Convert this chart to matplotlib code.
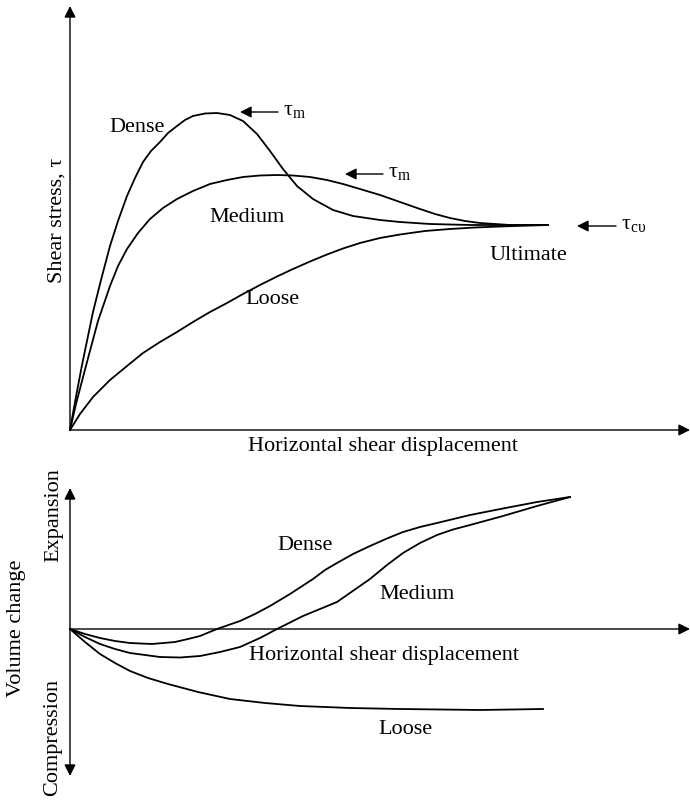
import matplotlib
matplotlib.use("Agg")
import matplotlib.pyplot as plt

plt.rcParams['font.family'] = ['Liberation Serif', 'DejaVu Serif']
plt.rcParams['mathtext.fontset'] = 'custom'
plt.rcParams['mathtext.rm'] = 'Liberation Serif'
plt.rcParams['mathtext.it'] = 'Liberation Serif:italic'

# shear stress vs horizontal displacement (arbitrary units)
dense_x = [0, 5, 12, 23, 31, 40, 48, 57, 65, 73, 81, 90, 98, 107, 115, 123, 135, 147,
           160, 173, 187, 200, 213, 227, 243, 263, 283, 310, 330, 360, 400, 440, 478]
dense_y = [0, 28, 65, 118, 150, 184, 209, 234, 252, 268, 279, 288, 297, 304, 310, 314, 316.5, 317,
           315, 309, 296, 279, 261, 244, 231, 220, 214, 210, 208, 206, 205, 205, 205]
medium_x = [0, 6, 17, 28, 40, 48, 57, 68, 80, 93, 107, 123, 140, 157, 173, 190, 207, 223,
            240, 257, 273, 290, 310, 330, 350, 365, 380, 395, 410, 425, 440, 478]
medium_y = [0, 26, 68, 109, 144, 164, 181, 197, 211, 222, 231, 239, 246, 250, 253, 254.5, 255, 254.5,
            253, 250, 246, 241, 235, 228, 221, 216, 212, 209, 207, 206, 205, 205]
loose_x = [0, 10, 23, 40, 57, 73, 90, 107, 123, 140, 157, 173, 190, 207, 223, 240, 257,
           273, 290, 310, 330, 355, 380, 405, 430, 455, 478]
loose_y = [0, 16, 33, 50, 64, 77, 88, 98, 108, 118, 127, 136, 145, 153.5, 161, 168.5, 175.5,
           181.5, 187, 192, 195.5, 199, 201, 202.5, 203.5, 204.3, 205]

# volume change vs horizontal displacement
vd_x = [0, 15, 30, 45, 60, 82, 105, 118, 130, 147, 170, 185, 200, 220, 243, 255, 267, 283,
        300, 317, 333, 350, 367, 400, 433, 467, 500]
vd_y = [0, -5, -9, -12, -14, -15, -13, -10, -7, 0, 8, 15, 23, 35, 50, 59, 66, 75,
        83, 90.5, 97, 102, 106, 114, 120.5, 127, 132]
vm_x = [0, 15, 30, 45, 60, 90, 110, 130, 150, 170, 190, 207, 233, 267, 300, 317, 333, 350,
        367, 383, 400, 433, 467, 500]
vm_y = [0, -8, -15, -20, -24, -28, -28.5, -27, -23, -18, -9, 0, 13, 27, 50, 64, 76, 86,
        94, 99.5, 104, 113, 123, 132]
vl_x = [0, 15, 30, 45, 60, 78, 98, 128, 160, 195, 230, 280, 330, 410, 473]
vl_y = [0, -13, -25, -34, -42, -49, -55, -63, -70, -74, -77, -79, -80, -81, -80]

W, H = 690, 803
fig = plt.figure(figsize=(W / 100, H / 100), dpi=100)

def px_axes(x0, x1, y0, y1):
    # axes placed by pixel box (top-left origin)
    return fig.add_axes([x0 / W, (H - y1) / H, (x1 - x0) / W, (y1 - y0) / H])

FS = 16
LW = 1.3
arrow = dict(arrowstyle='-|>', color='black', lw=1.0, mutation_scale=17, shrinkA=0, shrinkB=0)

# ---- top panel ----
ax1 = px_axes(70, 690, 7, 431)
ax1.set_xlim(0, 620)
ax1.set_ylim(0, 424)
ax1.axis('off')
for xs, ys in [(dense_x, dense_y), (medium_x, medium_y), (loose_x, loose_y)]:
    ax1.plot(xs, ys, color='black', lw=LW, clip_on=False, solid_joinstyle='round')
ax1.annotate('', xy=(620, 0), xytext=(0, 0), arrowprops=arrow, annotation_clip=False)
ax1.annotate('', xy=(0, 424), xytext=(0, 0), arrowprops=arrow, annotation_clip=False)

ax1.text(67, 303, 'Dense', fontsize=FS, ha='center', va='center')
ax1.text(177, 214, 'Medium', fontsize=FS, ha='center', va='center')
ax1.text(202, 131, 'Loose', fontsize=FS, ha='center', va='center')
ax1.text(458, 175, 'Ultimate', fontsize=FS, ha='center', va='center')
ax1.text(313, -16, 'Horizontal shear displacement', fontsize=FS, ha='center', va='center')
ax1.text(-13, 211, 'Shear stress, τ', fontsize=FS, ha='center', va='center', rotation=90)

tau_arrows = [((170, 318), (208, 318), r'$\mathrm{τ}_{\mathrm{m}}$'),
              ((275, 256), (313, 256), r'$\mathrm{τ}_{\mathrm{m}}$'),
              ((507, 204), (546, 204), r'$\mathrm{τ}_{\mathrm{cυ}}$')]
for tip, tail, lab in tau_arrows:
    ax1.annotate('', xy=tip, xytext=tail, arrowprops=arrow, annotation_clip=False)
    ax1.text(tail[0] + 5, tail[1] + 3, lab, fontsize=FS, ha='left', va='center')

# ---- bottom panel ----
ax2 = px_axes(70, 690, 489, 777)
ax2.set_xlim(0, 620)
ax2.set_ylim(-147, 141)
ax2.axis('off')
for xs, ys in [(vd_x, vd_y), (vm_x, vm_y), (vl_x, vl_y)]:
    ax2.plot(xs, ys, color='black', lw=LW, clip_on=False, solid_joinstyle='round')
ax2.annotate('', xy=(620, 0), xytext=(0, 0), arrowprops=arrow, annotation_clip=False)
dbl = dict(arrow, arrowstyle='<|-|>')
ax2.annotate('', xy=(0, 141), xytext=(0, -147), arrowprops=dbl, annotation_clip=False)

ax2.text(235, 85, 'Dense', fontsize=FS, ha='center', va='center')
ax2.text(347, 35, 'Medium', fontsize=FS, ha='center', va='center')
ax2.text(314, -26, 'Horizontal shear displacement', fontsize=FS, ha='center', va='center')
ax2.text(335, -100, 'Loose', fontsize=FS, ha='center', va='center')
ax2.text(-16, 115, 'Expansion', fontsize=FS, ha='center', va='center', rotation=90)
ax2.text(-17, -107, 'Compression', fontsize=FS, ha='center', va='center', rotation=90)
ax2.text(-53, 2, 'Volume change', fontsize=FS, ha='center', va='center', rotation=90)

fig.savefig('out.png', dpi=100)
